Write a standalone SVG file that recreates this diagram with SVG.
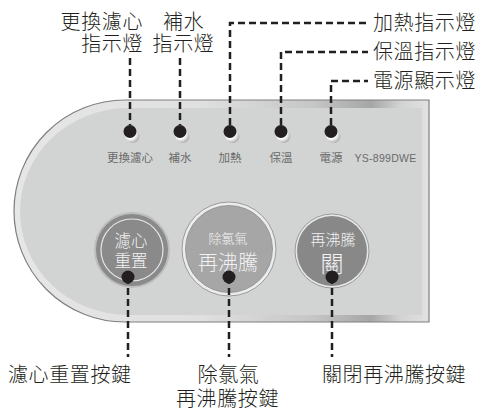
<svg xmlns="http://www.w3.org/2000/svg" width="480" height="410" viewBox="0 0 480 410">
<defs>
<linearGradient id="bevel" x1="0" y1="0" x2="1" y2="0">
<stop offset="0" stop-color="#e6e6e6"/>
<stop offset="0.45" stop-color="#e0e0e0"/>
<stop offset="0.72" stop-color="#c6c6c6"/>
<stop offset="0.86" stop-color="#a6a6a6"/>
<stop offset="0.93" stop-color="#d2d2d2"/>
<stop offset="1" stop-color="#e2e2e2"/>
</linearGradient>
<radialGradient id="lens" cx="0.35" cy="0.35" r="0.7">
<stop offset="0.5" stop-color="#ffffff"/>
<stop offset="1" stop-color="#a9a9a9"/>
</radialGradient>
<style>
.lbl{font-family:"Noto Sans CJK TC","Noto Sans CJK SC",sans-serif;font-size:20px;font-weight:300;fill:#231f20;letter-spacing:0.6px}
.small{font-family:"Noto Sans CJK TC","Noto Sans CJK SC",sans-serif;font-size:11.5px;fill:#6a6a6a}
.btn{font-family:"Noto Sans CJK TC","Noto Sans CJK SC",sans-serif;font-weight:300;fill:#f2f2f2;text-anchor:middle}
.dash{fill:none;stroke:#231f20;stroke-width:2.5;stroke-dasharray:7 4}
.dot{fill:#231f20}
</style>
</defs>

<g id="panel">
<path d="M125 100 L429 100 L429 322 L125 322 A111 111 0 0 1 125 100 Z" fill="url(#bevel)" stroke="#7f7f7f" stroke-width="1.2"/>
<path d="M128 108 L422 108 L422 315 L128 315 A108 103.5 0 0 1 128 108 Z" fill="#d2d4d3"/>
</g>

<g id="leds">
<g id="led1"><ellipse cx="132.5" cy="136" rx="7" ry="7" fill="url(#lens)"/><circle class="dot" cx="130" cy="131.5" r="6.5"/><text class="small" x="130" y="162" text-anchor="middle">更換濾心</text></g>
<g id="led2"><ellipse cx="182.5" cy="136" rx="7" ry="7" fill="url(#lens)"/><circle class="dot" cx="180" cy="131.5" r="6.5"/><text class="small" x="180" y="162" text-anchor="middle">補水</text></g>
<g id="led3"><ellipse cx="232.5" cy="136" rx="7" ry="7" fill="url(#lens)"/><circle class="dot" cx="230" cy="131.5" r="6.5"/><text class="small" x="230" y="162" text-anchor="middle">加熱</text></g>
<g id="led4"><ellipse cx="283.5" cy="136" rx="7" ry="7" fill="url(#lens)"/><circle class="dot" cx="281" cy="131.5" r="6.5"/><text class="small" x="281" y="162" text-anchor="middle">保溫</text></g>
<g id="led5"><ellipse cx="333.5" cy="136" rx="7" ry="7" fill="url(#lens)"/><circle class="dot" cx="331" cy="131.5" r="6.5"/><text class="small" x="331" y="162" text-anchor="middle">電源</text></g>
<text id="model" x="385.5" y="162" text-anchor="middle" font-family="Liberation Sans, sans-serif" font-size="10.5" fill="#6a6a6a" letter-spacing="0.3">YS-899DWE</text>
</g>

<g id="btn-filter">
<circle cx="132" cy="250" r="37" fill="#8a8a8a" stroke="#bdbdbd" stroke-width="2"/>
<circle cx="132" cy="250" r="31" fill="none" stroke="#e6e6e6" stroke-width="1.2"/>
<text class="btn" x="131" y="247" font-size="16.5">濾心</text>
<text class="btn" x="131" y="267" font-size="16.5">重置</text>
</g>

<g id="btn-reboil">
<circle cx="229" cy="249" r="47" fill="#ececec" stroke="#9a9a9a" stroke-width="1"/>
<circle cx="229" cy="249" r="43.5" fill="#a6a6a6" stroke="#8e8e8e" stroke-width="0.8"/>
<text class="btn" x="228" y="243" font-size="13">除氯氣</text>
<text class="btn" x="228" y="269.5" font-size="20">再沸騰</text>
</g>

<g id="btn-off">
<circle cx="332" cy="251" r="37" fill="#e8e8e8" stroke="#9a9a9a" stroke-width="1"/>
<circle cx="332" cy="251" r="35" fill="#888888"/>
<text class="btn" x="333" y="245" font-size="15">再沸騰</text>
<text class="btn" x="332" y="272" font-size="23">關</text>
</g>

<g id="connectors">
<path class="dash" d="M130 58 V125"/>
<path class="dash" d="M180 58 V125"/>
<path class="dash" d="M230 125 V23 H368"/>
<path class="dash" d="M281 125 V52 H368"/>
<path class="dash" d="M331 125 V81 H368"/>
<path class="dash" d="M128 277 V357"/>
<path class="dash" d="M229 277 V357"/>
<path class="dash" d="M332 277 V357"/>
<circle class="dot" cx="128" cy="277" r="6.5"/>
<circle class="dot" cx="229" cy="277" r="6.5"/>
<circle class="dot" cx="332" cy="277" r="6.5"/>
</g>

<g id="labels">
<text class="lbl" x="143" y="29" text-anchor="end">更換濾心</text>
<text class="lbl" x="143" y="51" text-anchor="end">指示燈</text>
<text class="lbl" x="183.5" y="29" text-anchor="middle">補水</text>
<text class="lbl" x="183.5" y="51" text-anchor="middle">指示燈</text>
<text class="lbl" x="373" y="30">加熱指示燈</text>
<text class="lbl" x="373" y="59">保溫指示燈</text>
<text class="lbl" x="373" y="88">電源顯示燈</text>
<text class="lbl" x="8" y="382">濾心重置按鍵</text>
<text class="lbl" x="228.5" y="382" text-anchor="middle">除氯氣</text>
<text class="lbl" x="227.5" y="406" text-anchor="middle">再沸騰按鍵</text>
<text class="lbl" x="322" y="382">關閉再沸騰按鍵</text>
</g>
</svg>
